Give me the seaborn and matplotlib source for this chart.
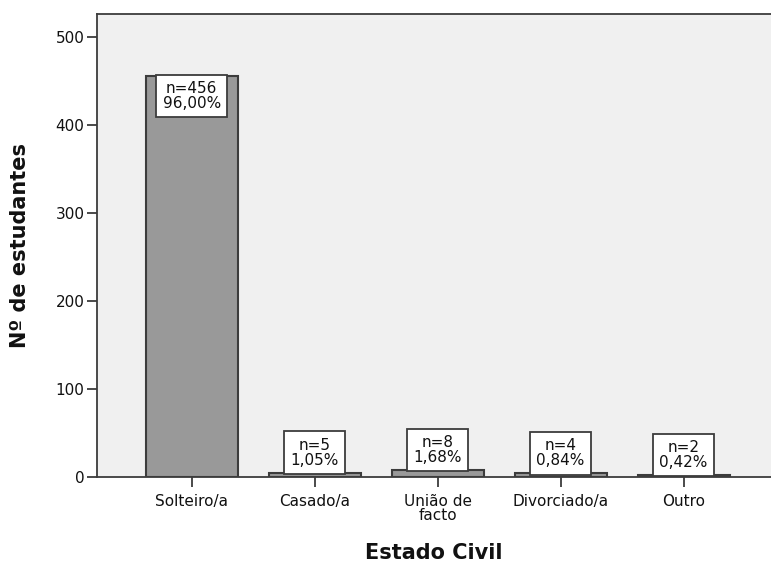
import matplotlib.pyplot as plt
import pandas as pd
import seaborn as sns

categories = ["Solteiro/a", "Casado/a", "União de\nfacto", "Divorciado/a", "Outro"]
counts = [456, 5, 8, 4, 2]
percents = ["96,00%", "1,05%", "1,68%", "0,84%", "0,42%"]

df = pd.DataFrame({"estado": categories, "n": counts})

sns.set_theme(style="white")
plt.rcParams["font.family"] = ["DejaVu Sans"]

fig = plt.figure(figsize=(7.71, 5.70), dpi=100)
ax = fig.add_axes([97 / 771, 1 - 477 / 570, 1 - 97 / 771, (477 - 14) / 570])
ax.set_facecolor("#f0f0f0")

sns.barplot(data=df, x="estado", y="n", color="#999999", width=0.75,
            edgecolor="#3c3c3c", linewidth=1.5, saturation=1, ax=ax)

# label boxes sit on top of small bars, inside the top of the tall bar
for i, (n, pct) in enumerate(zip(counts, percents)):
    label = f"n={n}\n{pct}"
    box = dict(boxstyle="square,pad=0.4", facecolor="white", edgecolor="#3c3c3c", linewidth=1.3)
    if n > 100:
        ax.annotate(label, (i, n), xytext=(0, -3.8), textcoords="offset points",
                    ha="center", va="top", fontsize=11, linespacing=1.0,
                    bbox=box, color="#111111")
    else:
        ax.annotate(label, (i, n), xytext=(0, 3.6), textcoords="offset points",
                    ha="center", va="bottom", fontsize=11, linespacing=1.0,
                    bbox=box, color="#111111")

ax.set_xlim(-0.77, 4.71)
ax.set_ylim(0, 526)
ax.set_yticks([0, 100, 200, 300, 400, 500])

for side in ["left", "bottom", "top"]:
    ax.spines[side].set_color("#3c3c3c")
    ax.spines[side].set_linewidth(1.3)
ax.spines["right"].set_visible(False)

ax.tick_params(axis="both", direction="out", length=7, width=1.3, color="#3c3c3c",
               labelsize=11, labelcolor="#111111", left=True, bottom=True)
ax.tick_params(axis="x", pad=5)
ax.tick_params(axis="y", pad=2)
for lab in ax.get_xticklabels():
    lab.set_linespacing(0.95)

ax.set_xlabel("Estado Civil", fontsize=15, fontweight="bold", labelpad=14, color="#111111")
ax.set_ylabel("Nº de estudantes", fontsize=15, fontweight="bold", labelpad=18, color="#111111")

fig.savefig("out.png", dpi=100)
